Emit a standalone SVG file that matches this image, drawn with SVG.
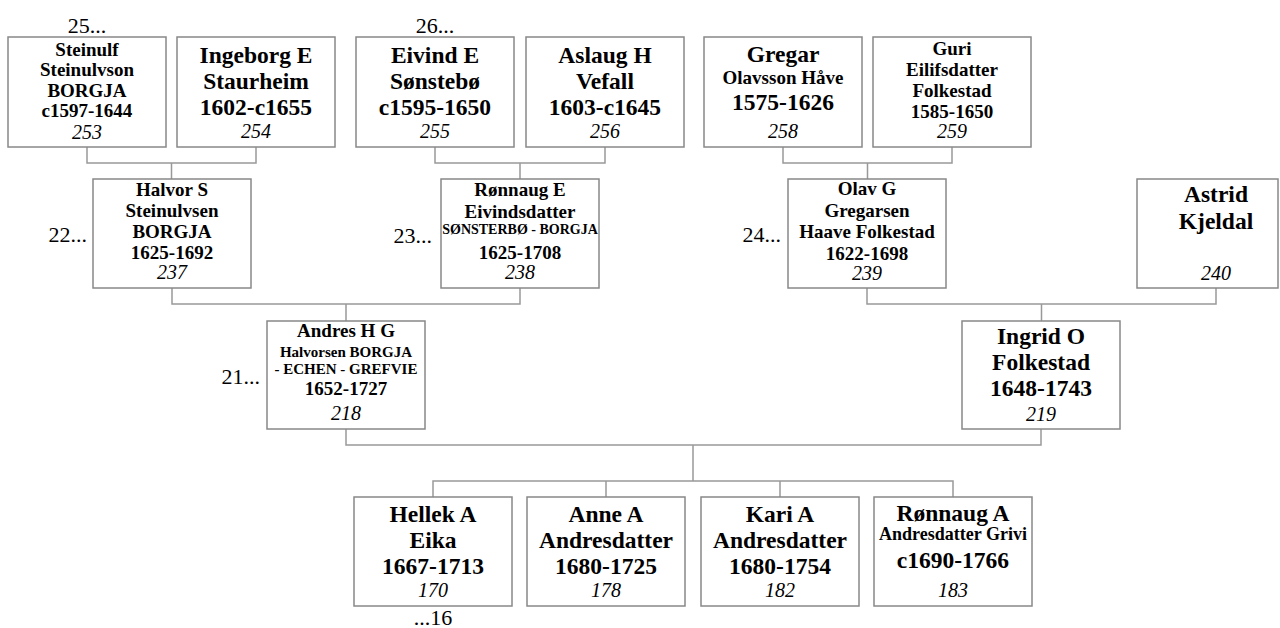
<svg xmlns="http://www.w3.org/2000/svg" width="1280" height="628" viewBox="0 0 1280 628">
<style>
.bg{fill:#fff}
.box{fill:#fff;stroke:#888;stroke-width:1.5}
.conn{fill:none;stroke:#999;stroke-width:1.5}
text{font-family:"Liberation Serif","Times New Roman",serif;fill:#000}
.t{font-weight:bold;text-anchor:middle}
.L{font-size:23.5px}
.M{font-size:19px}
.S{font-size:15px}
.XS{font-size:14px}
.R{font-size:18px}
.n{font-style:italic;font-size:20px;text-anchor:middle}
.g{font-size:22px}
.ge{text-anchor:end}
.gm{text-anchor:middle}
</style>
<rect class="bg" x="0" y="0" width="1280" height="628"/>
<g id="connectors">
<path class="conn" d="M87 147V163H256V147M171.5 163V179"/>
<path class="conn" d="M435 147V163H605V147M520 163V179"/>
<path class="conn" d="M783 147V163H952V147M867.5 163V179"/>
<path class="conn" d="M172 288V304H520V288M346 304V321"/>
<path class="conn" d="M867 288V304H1216V288M1041.5 304V321"/>
<path class="conn" d="M346 429V445H1041V429M693 445V481"/>
<path class="conn" d="M433 497V481H953V497M606 481V497M780 481V497"/>
</g>
<g id="gen-labels">
<text class="g gm" x="87" y="33">25...</text>
<text class="g gm" x="435" y="33">26...</text>
<text class="g ge" x="87" y="242">22...</text>
<text class="g ge" x="432" y="243">23...</text>
<text class="g ge" x="781" y="242">24...</text>
<text class="g ge" x="260" y="384">21...</text>
<text class="g gm" x="433" y="625">...16</text>
</g>
<g id="n253">
<rect class="box" x="8" y="37" width="158" height="110"/>
<text class="t M" x="87" y="56">Steinulf</text>
<text class="t M" x="87" y="76">Steinulvson</text>
<text class="t M" x="87" y="97">BORGJA</text>
<text class="t M" x="87" y="117">c1597-1644</text>
<text class="n" x="87" y="139">253</text>
</g>
<g id="n254">
<rect class="box" x="177" y="37" width="158" height="110"/>
<text class="t L" x="256" y="63">Ingeborg E</text>
<text class="t L" x="256" y="89">Staurheim</text>
<text class="t L" x="256" y="115">1602-c1655</text>
<text class="n" x="256" y="138">254</text>
</g>
<g id="n255">
<rect class="box" x="356" y="37" width="158" height="110"/>
<text class="t L" x="435" y="63">Eivind E</text>
<text class="t L" x="435" y="89">Sønstebø</text>
<text class="t L" x="435" y="115">c1595-1650</text>
<text class="n" x="435" y="138">255</text>
</g>
<g id="n256">
<rect class="box" x="526" y="37" width="158" height="110"/>
<text class="t L" x="605" y="63">Aslaug H</text>
<text class="t L" x="605" y="89">Vefall</text>
<text class="t L" x="605" y="115">1603-c1645</text>
<text class="n" x="605" y="138">256</text>
</g>
<g id="n258">
<rect class="box" x="704" y="37" width="158" height="110"/>
<text class="t L" x="783" y="62">Gregar</text>
<text class="t M" x="783" y="84">Olavsson Håve</text>
<text class="t L" x="783" y="110">1575-1626</text>
<text class="n" x="783" y="138">258</text>
</g>
<g id="n259">
<rect class="box" x="873" y="37" width="158" height="110"/>
<text class="t M" x="952" y="55">Guri</text>
<text class="t M" x="952" y="76">Eilifsdatter</text>
<text class="t M" x="952" y="97">Folkestad</text>
<text class="t M" x="952" y="118">1585-1650</text>
<text class="n" x="952" y="138">259</text>
</g>
<g id="n237">
<rect class="box" x="93" y="179" width="158" height="109"/>
<text class="t M" x="172" y="196">Halvor S</text>
<text class="t M" x="172" y="217">Steinulvsen</text>
<text class="t M" x="172" y="238">BORGJA</text>
<text class="t M" x="172" y="259">1625-1692</text>
<text class="n" x="172" y="279">237</text>
</g>
<g id="n238">
<rect class="box" x="441" y="179" width="158" height="109"/>
<text class="t M" x="520" y="196">Rønnaug E</text>
<text class="t M" x="520" y="218">Eivindsdatter</text>
<text class="t XS" x="520" y="234">SØNSTERBØ - BORGJA</text>
<text class="t M" x="520" y="259">1625-1708</text>
<text class="n" x="520" y="279">238</text>
</g>
<g id="n239">
<rect class="box" x="788" y="179" width="158" height="109"/>
<text class="t M" x="867" y="195">Olav G</text>
<text class="t M" x="867" y="217">Gregarsen</text>
<text class="t M" x="867" y="238">Haave Folkestad</text>
<text class="t M" x="867" y="260">1622-1698</text>
<text class="n" x="867" y="280">239</text>
</g>
<g id="n240">
<rect class="box" x="1137" y="179" width="141" height="109"/>
<text class="t L" x="1216" y="202">Astrid</text>
<text class="t L" x="1216" y="229">Kjeldal</text>
<text class="n" x="1216" y="280">240</text>
</g>
<g id="n218">
<rect class="box" x="267" y="321" width="158" height="108"/>
<text class="t M" x="346" y="337">Andres H G</text>
<text class="t S" x="346" y="357">Halvorsen BORGJA</text>
<text class="t S" x="346" y="374">- ECHEN - GREFVIE</text>
<text class="t M" x="346" y="395">1652-1727</text>
<text class="n" x="346" y="420">218</text>
</g>
<g id="n219">
<rect class="box" x="962" y="321" width="158" height="108"/>
<text class="t L" x="1041" y="344">Ingrid O</text>
<text class="t L" x="1041" y="370">Folkestad</text>
<text class="t L" x="1041" y="396">1648-1743</text>
<text class="n" x="1041" y="421">219</text>
</g>
<g id="n170">
<rect class="box" x="354" y="497" width="158" height="109"/>
<text class="t L" x="433" y="522">Hellek A</text>
<text class="t L" x="433" y="548">Eika</text>
<text class="t L" x="433" y="574">1667-1713</text>
<text class="n" x="433" y="597">170</text>
</g>
<g id="n178">
<rect class="box" x="527" y="497" width="158" height="109"/>
<text class="t L" x="606" y="522">Anne A</text>
<text class="t L" x="606" y="548">Andresdatter</text>
<text class="t L" x="606" y="574">1680-1725</text>
<text class="n" x="606" y="597">178</text>
</g>
<g id="n182">
<rect class="box" x="701" y="497" width="158" height="109"/>
<text class="t L" x="780" y="522">Kari A</text>
<text class="t L" x="780" y="548">Andresdatter</text>
<text class="t L" x="780" y="574">1680-1754</text>
<text class="n" x="780" y="597">182</text>
</g>
<g id="n183">
<rect class="box" x="874" y="497" width="158" height="109"/>
<text class="t L" x="953" y="521">Rønnaug A</text>
<text class="t R" x="953" y="540">Andresdatter Grivi</text>
<text class="t L" x="953" y="568">c1690-1766</text>
<text class="n" x="953" y="597">183</text>
</g>
</svg>
